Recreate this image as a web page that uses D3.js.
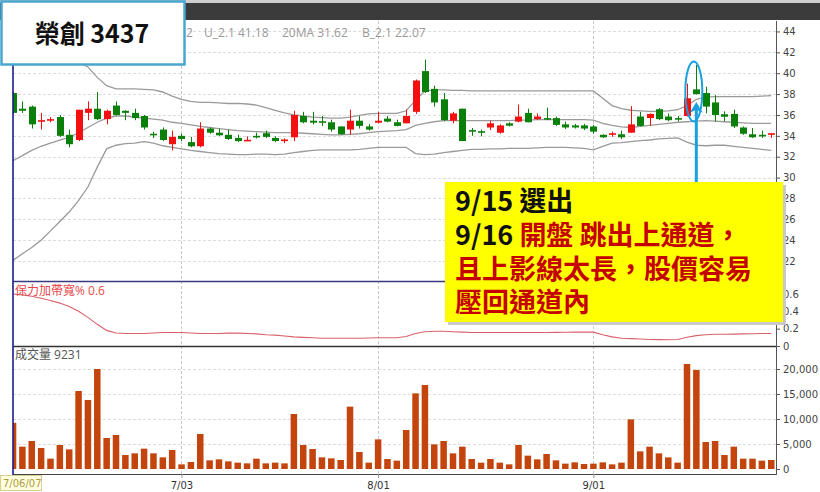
<!DOCTYPE html>
<html><head><meta charset="utf-8">
<script src="https://cdn.jsdelivr.net/npm/d3@7"></script>
<style>body{margin:0;background:#fff}svg{display:block}</style>
</head><body>
<svg id="c" width="820" height="492"></svg>
<script>
// ---------- DATA ----------
const dates = [
"2017/06/07","2017/06/08","2017/06/09","2017/06/12","2017/06/13","2017/06/14","2017/06/15","2017/06/16","2017/06/19","2017/06/20",
"2017/06/21","2017/06/22","2017/06/23","2017/06/26","2017/06/27","2017/06/28","2017/06/29","2017/06/30",
"2017/07/03","2017/07/04","2017/07/05","2017/07/06","2017/07/07","2017/07/10","2017/07/11","2017/07/12","2017/07/13","2017/07/14",
"2017/07/17","2017/07/18","2017/07/19","2017/07/20","2017/07/21","2017/07/24","2017/07/25","2017/07/26","2017/07/27","2017/07/28","2017/07/31",
"2017/08/01","2017/08/02","2017/08/03","2017/08/04","2017/08/07","2017/08/08","2017/08/09","2017/08/10","2017/08/11","2017/08/14",
"2017/08/15","2017/08/16","2017/08/17","2017/08/18","2017/08/21","2017/08/22","2017/08/23","2017/08/24","2017/08/25","2017/08/28",
"2017/08/29","2017/08/30","2017/08/31",
"2017/09/01","2017/09/04","2017/09/05","2017/09/06","2017/09/07","2017/09/08","2017/09/11","2017/09/12","2017/09/13","2017/09/14",
"2017/09/15","2017/09/18","2017/09/19","2017/09/20","2017/09/21","2017/09/22","2017/09/25","2017/09/26","2017/09/27","2017/09/28"];
const open = [38.1,36.6,36.8,35.35,35.45,35.8,34.1,33.6,36.2,36.6,
35.6,36.9,36.4,36.2,35.9,34.2,34.6,33.2,34.0,33.4,
33.0,34.7,34.3,34.1,33.8,33.5,34.0,34.25,33.8,33.5,
33.86,35.9,35.45,35.4,35.3,34.9,34.6,35.45,34.9,35.26,
35.65,35.3,35.2,36.3,40.2,38.5,37.5,35.45,36.6,34.55,
34.45,34.8,34.3,35.2,35.36,36.2,35.6,35.7,35.7,35.1,
35.0,35.0,34.9,34.1,34.15,34.15,34.3,35.85,35.7,36.55,
35.85,35.7,35.9,38.45,38.1,37.2,36.07,36.1,34.8,34.15,
34.1,34.2];
const high = [38.2,37.3,36.9,36.2,35.8,36.0,34.6,36.5,37.3,38.2,
36.5,37.3,36.45,36.6,36.0,34.4,34.8,34.5,34.2,33.9,
35.3,34.8,34.7,34.6,34.1,33.95,34.3,34.5,33.95,33.75,
36.4,36.3,36.3,35.9,35.55,34.9,36.5,35.9,35.15,36.3,
35.9,35.55,36.5,39.4,41.3,38.8,38.1,36.3,36.6,34.75,
34.6,35.45,35.1,35.3,37.0,36.6,36.15,36.7,35.85,35.35,
35.15,35.15,35.05,34.15,34.4,34.5,36.85,36.3,36.15,36.65,
36.15,35.9,39.0,40.8,38.7,37.9,36.35,36.5,34.9,34.75,
34.5,34.25];
const low = [36.1,36.2,34.7,34.6,35.3,33.9,32.9,33.5,35.5,35.5,
35.1,35.95,35.5,35.5,34.6,33.8,33.5,32.6,33.5,32.9,
32.9,34.2,34.0,33.6,33.4,33.5,33.75,33.8,33.4,33.3,
33.5,35.2,35.1,34.95,34.4,34.1,34.1,34.7,34.5,35.2,
35.3,34.9,35.2,36.1,38.1,36.8,35.4,35.2,33.5,34.0,
33.95,34.55,34.2,34.9,35.3,35.3,35.5,35.5,34.95,34.65,
34.7,34.55,34.2,33.8,33.9,33.7,34.3,34.9,34.95,35.5,
35.4,35.4,35.85,37.95,36.15,35.35,35.4,34.75,34.1,33.8,
33.8,33.8];
const close = [36.2,36.4,35.1,35.5,35.6,34.0,33.2,36.5,36.6,35.6,
36.4,36.0,36.2,35.7,34.8,34.1,33.6,33.9,33.7,33.0,
34.7,34.3,34.05,33.7,33.5,33.62,33.85,33.9,33.5,33.65,
36.0,35.3,35.26,35.3,34.6,34.15,35.45,34.95,34.6,35.45,
35.36,34.95,35.9,39.3,38.2,37.2,35.5,36.15,33.5,34.45,
34.3,35.2,35.0,34.97,35.85,35.3,35.85,35.6,35.05,34.8,
34.8,34.7,34.4,33.86,34.25,33.86,35.1,34.95,36.1,35.6,
35.5,35.7,37.6,38.0,36.8,36.0,35.83,34.9,34.2,33.86,
34.0,34.25];
const upperBand = [41.18,41.3,41.4,41.5,41.5,41.45,41.3,41.05,40.6,39.6,
38.8,38.5,38.5,38.5,38.45,38.4,38.2,37.8,37.5,37.3,
37.2,37.2,37.15,37.1,37.1,37.05,36.95,36.7,36.45,36.2,
36.0,35.9,35.8,35.75,35.7,35.7,35.8,35.95,36.1,36.15,
36.15,36.15,36.4,37.4,38.3,38.4,38.4,38.35,38.35,38.3,
38.3,38.3,38.3,38.3,38.3,38.3,38.3,38.3,38.3,38.3,
38.3,38.3,38.3,37.6,36.9,36.6,36.45,36.4,36.35,36.35,
36.4,36.5,36.9,37.5,37.7,37.75,37.75,37.75,37.75,37.75,
37.8,37.85];
const ma20 = [31.62,32.1,32.6,33.0,33.3,33.6,33.85,34.3,34.8,35.3,
35.7,35.9,35.9,35.8,35.7,35.6,35.5,35.3,35.2,35.05,
34.9,34.8,34.7,34.6,34.5,34.45,34.4,34.35,34.3,34.3,
34.3,34.25,34.2,34.15,34.1,34.1,34.15,34.2,34.3,34.4,
34.45,34.5,34.6,35.0,35.2,35.35,35.45,35.45,35.45,35.45,
35.45,35.45,35.45,35.45,35.5,35.5,35.55,35.55,35.55,35.55,
35.55,35.55,35.5,35.2,35.0,34.85,34.8,34.9,35.0,35.1,
35.2,35.3,35.35,35.4,35.45,35.4,35.35,35.3,35.25,35.2,
35.2,35.2];
const lowerBand = [22.07,22.7,23.3,24.0,24.9,25.8,26.7,27.8,29.1,31.0,
32.75,33.1,33.25,33.3,33.45,33.3,33.05,32.9,32.75,32.6,
32.5,32.4,32.3,32.25,32.2,32.2,32.25,32.25,32.2,32.25,
32.4,32.5,32.6,32.65,32.65,32.65,32.65,32.7,32.8,32.9,
32.9,32.9,32.9,32.3,32.2,32.25,32.4,32.5,32.6,32.7,
32.7,32.75,32.75,32.8,32.8,32.8,32.85,32.9,32.9,32.9,
32.85,32.8,32.65,33.0,33.3,33.35,33.45,33.55,33.6,33.7,
33.75,33.8,33.4,33.1,33.05,33.1,33.1,33.0,32.9,32.8,
32.7,32.6];
const bandWidth = [0.60,0.59,0.575,0.55,0.525,0.495,0.455,0.40,0.33,0.25,
0.18,0.15,0.145,0.145,0.145,0.15,0.155,0.155,0.155,0.15,
0.145,0.145,0.145,0.148,0.148,0.145,0.14,0.13,0.125,0.115,
0.105,0.10,0.095,0.09,0.09,0.09,0.09,0.09,0.092,0.095,
0.095,0.095,0.11,0.145,0.165,0.17,0.17,0.165,0.16,0.155,
0.155,0.155,0.155,0.155,0.155,0.155,0.155,0.155,0.157,0.158,
0.16,0.16,0.16,0.13,0.105,0.09,0.085,0.08,0.075,0.073,
0.072,0.075,0.10,0.12,0.13,0.135,0.135,0.137,0.14,0.142,
0.145,0.145];
const volume = [9231,4470,5600,4200,2070,4800,3930,15600,13800,20000,
6200,6800,2800,3130,4070,3130,2330,3800,930,1400,
7000,1730,1930,1530,1270,1130,2070,1130,1270,1130,
11000,4800,4000,2330,2130,1800,12470,3400,1270,5930,
2000,1670,7800,15130,16800,4930,5600,3130,4470,2000,
1270,2000,1270,930,4800,2670,1930,3000,1730,1070,
1330,1000,1070,1330,930,1270,9930,3530,4470,3130,
2330,1270,21000,19800,5400,5600,2800,4470,2070,2070,
1670,1800];
const priceTicks = [22,24,26,28,30,32,34,36,38,40,42,44];
const bwTicks = [0,0.2,0.4,0.6];
const volTicks = [0,5000,10000,15000,20000];
const monthTicks = ["2017/07/03","2017/08/01","2017/09/01"];

// ---------- LAYOUT ----------
const svg = d3.select("#c");
const L = 13, R = 776;
const x = d3.scalePoint().domain(dates).range([13, 771.2]);
const yP = d3.scaleLinear().domain([20, 45]).range([282, 21]);
const yB = d3.scaleLinear().domain([0, 0.75]).range([346, 281]);
const yV = d3.scaleLinear().domain([-1000, 24600]).range([474, 346]);
const RED = "#f41010", GREEN = "#0a800a";

svg.append("rect").attr("width", 820).attr("height", 492).attr("fill", "#fff");
svg.append("defs").append("clipPath").attr("id", "clip")
  .append("rect").attr("x", L).attr("y", 21).attr("width", R - L).attr("height", 453);

// header bar
svg.append("rect").attr("x", 0).attr("y", 0).attr("width", 820).attr("height", 3).attr("fill", "#cfcfcf");
svg.append("rect").attr("x", 0).attr("y", 3).attr("width", 820).attr("height", 17).attr("fill", "#3b3b3b");

// grid lines
const grid = svg.append("g").attr("stroke", "#dcdcdc").attr("stroke-dasharray", "3,2").attr("stroke-width", 1);
grid.selectAll(".hp").data(priceTicks).join("line")
  .attr("x1", L).attr("x2", R).attr("y1", d => Math.round(yP(d)) + 0.5).attr("y2", d => Math.round(yP(d)) + 0.5);
grid.selectAll(".hv").data(volTicks.slice(1)).join("line")
  .attr("x1", L).attr("x2", R).attr("y1", d => Math.round(yV(d)) + 0.5).attr("y2", d => Math.round(yV(d)) + 0.5);
grid.selectAll(".vm").data(monthTicks).join("line")
  .attr("stroke", "#c8c8c8")
  .attr("x1", d => Math.round(x(d)) + 0.5).attr("x2", d => Math.round(x(d)) + 0.5).attr("y1", 21).attr("y2", 474);

const plot = svg.append("g").attr("clip-path", "url(#clip)");

// bollinger bands
const idx = d3.range(dates.length);
const bandLine = arr => d3.line().x(i => x(dates[i])).y(i => yP(arr[i]))(idx);
[upperBand, ma20, lowerBand].forEach(arr => {
  plot.append("path").attr("d", bandLine(arr)).attr("fill", "none").attr("stroke", "#9a9a9a").attr("stroke-width", 1.3);
});

// candles
const candle = plot.append("g").selectAll("g").data(idx).join("g")
  .attr("fill", i => close[i] > open[i] ? RED : GREEN)
  .attr("stroke", i => close[i] > open[i] ? RED : GREEN);
candle.append("line")
  .attr("x1", i => Math.round(x(dates[i])) + 0.5).attr("x2", i => Math.round(x(dates[i])) + 0.5)
  .attr("y1", i => yP(high[i])).attr("y2", i => yP(low[i])).attr("stroke-width", 1);
candle.append("rect")
  .attr("stroke", "none")
  .attr("x", i => Math.round(x(dates[i])) - 3)
  .attr("width", 7)
  .attr("y", i => yP(Math.max(open[i], close[i])))
  .attr("height", i => Math.max(1.6, Math.abs(yP(open[i]) - yP(close[i]))));

// band width line
plot.append("path").attr("d", d3.line().x(i => x(dates[i])).y(i => yB(bandWidth[i]))(idx))
  .attr("fill", "none").attr("stroke", "#d9606a").attr("stroke-width", 1.1);

// volume bars
plot.append("g").selectAll("rect").data(idx).join("rect")
  .attr("x", i => x(dates[i]) - 3.2).attr("width", 6.5)
  .attr("y", i => yV(volume[i])).attr("height", i => yV(0) - yV(volume[i]))
  .attr("fill", "#c3440c");

// panel borders
svg.append("line").attr("x1", L).attr("x2", R).attr("y1", 281.5).attr("y2", 281.5).attr("stroke", "#3a3a80").attr("stroke-width", 1.5);
svg.append("line").attr("x1", L).attr("x2", R).attr("y1", 346.5).attr("y2", 346.5).attr("stroke", "#333").attr("stroke-width", 1.5);
svg.append("line").attr("x1", L).attr("x2", R).attr("y1", 474.5).attr("y2", 474.5).attr("stroke", "#444").attr("stroke-width", 1.2);
svg.append("line").attr("x1", L).attr("x2", L).attr("y1", 21).attr("y2", 475).attr("stroke", "#1c1c8c").attr("stroke-width", 1.6);

// right axes
function styleAxis(g) {
  g.select(".domain").attr("stroke", "#555");
  g.selectAll(".tick line").attr("stroke", "#555");
  g.selectAll(".tick text").attr("fill", "#444").style("font-family", "DejaVu Sans, sans-serif").style("font-size", "10px");
}
svg.append("g").attr("transform", `translate(${R},0)`)
  .call(d3.axisRight(yP).tickValues(priceTicks).tickSize(4).tickPadding(3).tickSizeOuter(0)).call(styleAxis);
svg.append("g").attr("transform", `translate(${R},0)`)
  .call(d3.axisRight(yB).tickValues(bwTicks).tickSize(4).tickPadding(3).tickSizeOuter(0)
    .tickFormat(d => d === 0 ? "0" : d3.format(".1f")(d))).call(styleAxis);
svg.append("g").attr("transform", `translate(${R},0)`)
  .call(d3.axisRight(yV).tickValues(volTicks).tickSize(4).tickPadding(3).tickSizeOuter(0)
    .tickFormat(d3.format(","))).call(styleAxis);
svg.append("line").attr("x1", R + 0.5).attr("x2", R + 0.5).attr("y1", 21).attr("y2", 475).attr("stroke", "#555");

// bottom axis
const xa = svg.append("g").attr("transform", "translate(0,474)")
  .call(d3.axisBottom(x).tickValues(monthTicks).tickSize(4).tickPadding(4)
    .tickFormat(d => d.slice(5, 7).replace(/^0/, "") + "/" + d.slice(8)));
xa.select(".domain").remove();
xa.selectAll(".tick line").attr("stroke", "#999");
xa.selectAll(".tick text").attr("fill", "#333").style("font-family", "DejaVu Sans, sans-serif").style("font-size", "10px");

// date tooltip
svg.append("rect").attr("x", 0.5).attr("y", 475.5).attr("width", 41).attr("height", 15)
  .attr("fill", "#ffffe0").attr("stroke", "#d6cf90");
svg.append("text").attr("x", 3).attr("y", 487).text("7/06/07")
  .attr("fill", "#b09a40").style("font-family", "DejaVu Sans, sans-serif").style("font-size", "10px");

// panel labels
const f12 = "Open Sans, Noto Sans CJK TC, sans-serif";
svg.append("text").attr("x", 186).attr("y", 37).text("2")
  .attr("fill", "#999").style("font-family", f12).style("font-size", "12px");
svg.append("text").attr("x", 204).attr("y", 37).text("U_2.1 41.18")
  .attr("fill", "#999").style("font-family", f12).style("font-size", "12px");
svg.append("text").attr("x", 282).attr("y", 37).text("20MA 31.62")
  .attr("fill", "#999").style("font-family", f12).style("font-size", "12px");
svg.append("text").attr("x", 362).attr("y", 37).text("B_2.1 22.07")
  .attr("fill", "#999").style("font-family", f12).style("font-size", "12px");
svg.append("text").attr("x", 15).attr("y", 295).text("保力加帶寬% 0.6")
  .attr("fill", "#e8474a").style("font-family", f12).style("font-size", "12px");
svg.append("text").attr("x", 15).attr("y", 359).text("成交量 9231")
  .attr("fill", "#555").style("font-family", f12).style("font-size", "12px");

// title box
svg.append("rect").attr("x", 1.5).attr("y", 1.5).attr("width", 183).attr("height", 63)
  .attr("fill", "#fff").attr("stroke", "#4aa6cc").attr("stroke-width", 2.5);
svg.append("text").attr("x", 92).attr("y", 43).attr("text-anchor", "middle").text("榮創 3437")
  .attr("fill", "#111").style("font-family", "Noto Sans CJK TC, sans-serif").style("font-weight", "bold").style("font-size", "25px");

// annotation: ellipse + arrow
const ax = x("2017/09/18");
svg.append("ellipse").attr("cx", ax - 2.5).attr("cy", yP(38.25)).attr("rx", 8.5).attr("ry", 30)
  .attr("fill", "none").attr("stroke", "#19a0de").attr("stroke-width", 2);
svg.append("line").attr("x1", ax).attr("x2", ax).attr("y1", 183).attr("y2", yP(36.9))
  .attr("stroke", "#19a0de").attr("stroke-width", 3);
svg.append("path")
  .attr("d", `M${ax},${yP(37.25)} L${ax - 6.5},${yP(36.2)} L${ax},${yP(36.5)} L${ax + 6.5},${yP(36.2)} Z`)
  .attr("fill", "#19a0de");

// callout
svg.append("rect").attr("x", 448).attr("y", 185).attr("width", 338).attr("height", 140).attr("fill", "#c9c9c9");
svg.append("rect").attr("x", 445).attr("y", 182).attr("width", 338).attr("height", 140).attr("fill", "#ffff00");
const ct = svg.append("g").style("font-family", "Noto Sans CJK TC, sans-serif").style("font-weight", "bold").style("font-size", "27px");
ct.append("text").attr("x", 455).attr("y", 211).attr("fill", "#111").text("9/15 選出");
const l2 = ct.append("text").attr("x", 455).attr("y", 245);
l2.append("tspan").attr("fill", "#111").text("9/16 ");
l2.append("tspan").attr("fill", "#c40000").text("開盤 跳出上通道，");
ct.append("text").attr("x", 455).attr("y", 279).attr("fill", "#c40000").text("且上影線太長，股價容易");
ct.append("text").attr("x", 455).attr("y", 312).attr("fill", "#c40000").text("壓回通道內");
</script>
</body></html>
